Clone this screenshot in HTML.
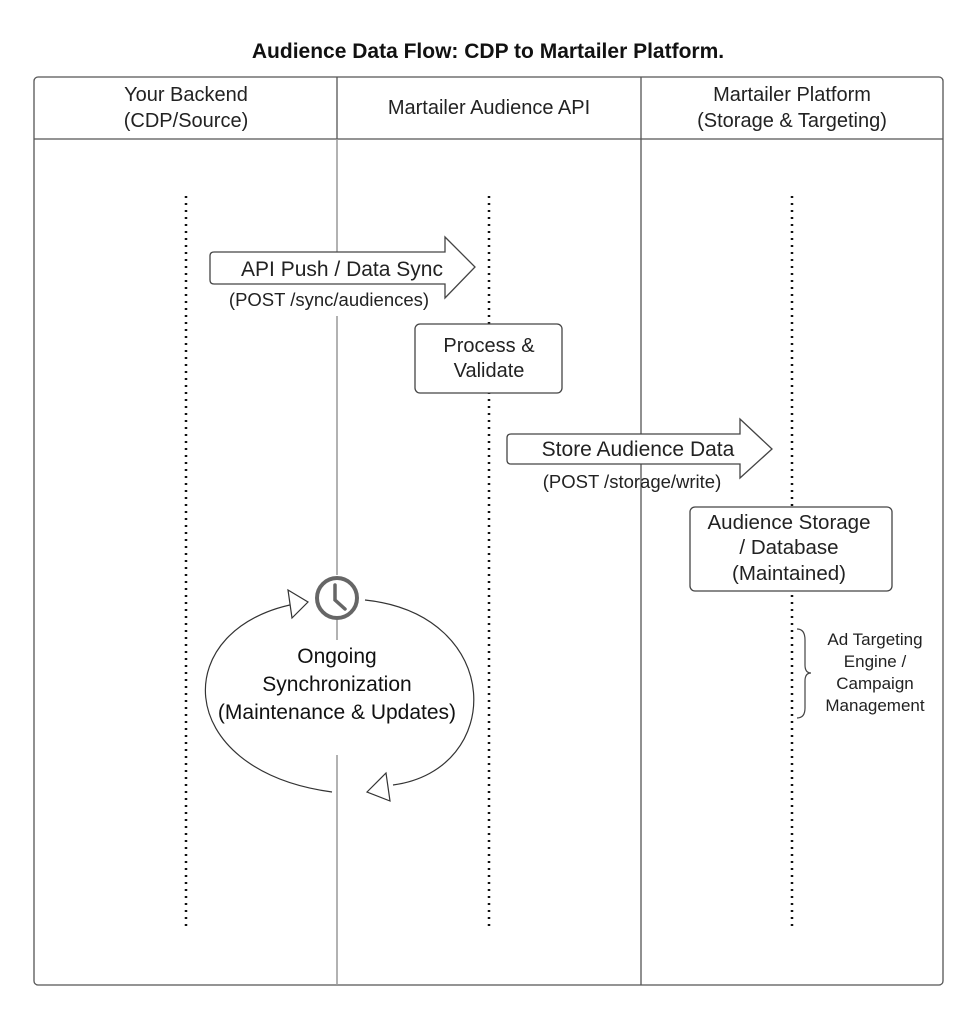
<!DOCTYPE html>
<html><head><style>
html,body{margin:0;padding:0;background:#fff;}
svg{display:block;font-family:"Liberation Sans",Arial,sans-serif;}
</style></head><body>
<svg width="977" height="1024" viewBox="0 0 977 1024" xmlns="http://www.w3.org/2000/svg">
<rect width="977" height="1024" fill="#fff"/>
<text x="488" y="58" text-anchor="middle" font-size="21" font-weight="bold" fill="#111">Audience Data Flow: CDP to Martailer Platform.</text>
<rect x="34" y="77" width="909" height="908" rx="4" fill="none" stroke="#555" stroke-width="1.3"/>
<line x1="34" y1="139" x2="943" y2="139" stroke="#555" stroke-width="1.3"/>
<line x1="641" y1="77" x2="641" y2="985" stroke="#555" stroke-width="1.3"/>
<line x1="337" y1="77" x2="337" y2="139" stroke="#555" stroke-width="1.3"/>
<g stroke="#999" stroke-width="1.5">
<line x1="337" y1="139" x2="337" y2="252"/>
<line x1="337" y1="316" x2="337" y2="575"/>
<line x1="337" y1="620" x2="337" y2="640"/>
<line x1="337" y1="755" x2="337" y2="985"/>
</g>
<g font-size="20" fill="#222" text-anchor="middle">
<text x="186" y="101">Your Backend</text><text x="186" y="127">(CDP/Source)</text>
<text x="489" y="114">Martailer Audience API</text>
<text x="792" y="101">Martailer Platform</text><text x="792" y="127">(Storage &amp; Targeting)</text>
</g>
<g stroke="#111" stroke-width="2.5" stroke-dasharray="2 5">
<line x1="186" y1="196" x2="186" y2="930"/>
<line x1="489" y1="196" x2="489" y2="930"/>
<line x1="792" y1="196" x2="792" y2="930"/>
</g>
<path d="M214 252 H445 V237 L475 267 L445 298 V284 H214 Q210 284 210 280 V256 Q210 252 214 252 Z" fill="#fff" stroke="#444" stroke-width="1.3"/>
<text x="342" y="276" text-anchor="middle" font-size="21" fill="#222">API Push / Data Sync</text>
<text x="329" y="306" text-anchor="middle" font-size="18.5" fill="#222">(POST /sync/audiences)</text>
<rect x="415" y="324" width="147" height="69" rx="5" fill="#fff" stroke="#444" stroke-width="1.3"/>
<text x="489" y="352" text-anchor="middle" font-size="20" fill="#222">Process &amp;</text>
<text x="489" y="377" text-anchor="middle" font-size="20" fill="#222">Validate</text>
<path d="M511 434 H740 V419 L772 449 L740 478 V464 H511 Q507 464 507 460 V438 Q507 434 511 434 Z" fill="#fff" stroke="#444" stroke-width="1.3"/>
<text x="638" y="456" text-anchor="middle" font-size="21" fill="#222">Store Audience Data</text>
<text x="632" y="488" text-anchor="middle" font-size="18.5" fill="#222">(POST /storage/write)</text>
<rect x="690" y="507" width="202" height="84" rx="5" fill="#fff" stroke="#444" stroke-width="1.3"/>
<g font-size="20.5" fill="#222" text-anchor="middle">
<text x="789" y="529">Audience Storage</text><text x="789" y="554">/ Database</text><text x="789" y="580">(Maintained)</text>
</g>
<path d="M797 629 Q805 629 805 640 V665 Q805 673 811 673 Q805 673 805 681 V708 Q805 718 797 718" fill="none" stroke="#444" stroke-width="1.2"/>
<g font-size="17" fill="#222" text-anchor="middle">
<text x="875" y="645">Ad Targeting</text><text x="875" y="667">Engine /</text><text x="875" y="689">Campaign</text><text x="875" y="711">Management</text>
</g>
<path d="M300 603 C168 625 170 770 332 792" fill="none" stroke="#333" stroke-width="1.2"/>
<path d="M365 600 C505 615 505 770 393 785" fill="none" stroke="#333" stroke-width="1.2"/>
<path d="M288 590 L308 602 L292 618 Z" fill="#fff" stroke="#333" stroke-width="1.2"/>
<path d="M367 792 L386 773 L390 801 Z" fill="#fff" stroke="#333" stroke-width="1.2"/>
<circle cx="337" cy="598" r="20" fill="#fff" stroke="#666" stroke-width="4"/>
<path d="M335 585 V600 L345 609" fill="none" stroke="#666" stroke-width="3.5" stroke-linecap="round"/>
<g font-size="21" fill="#111" text-anchor="middle">
<text x="337" y="663">Ongoing</text><text x="337" y="691">Synchronization</text><text x="337" y="719">(Maintenance &amp; Updates)</text>
</g>
</svg>
</body></html>
